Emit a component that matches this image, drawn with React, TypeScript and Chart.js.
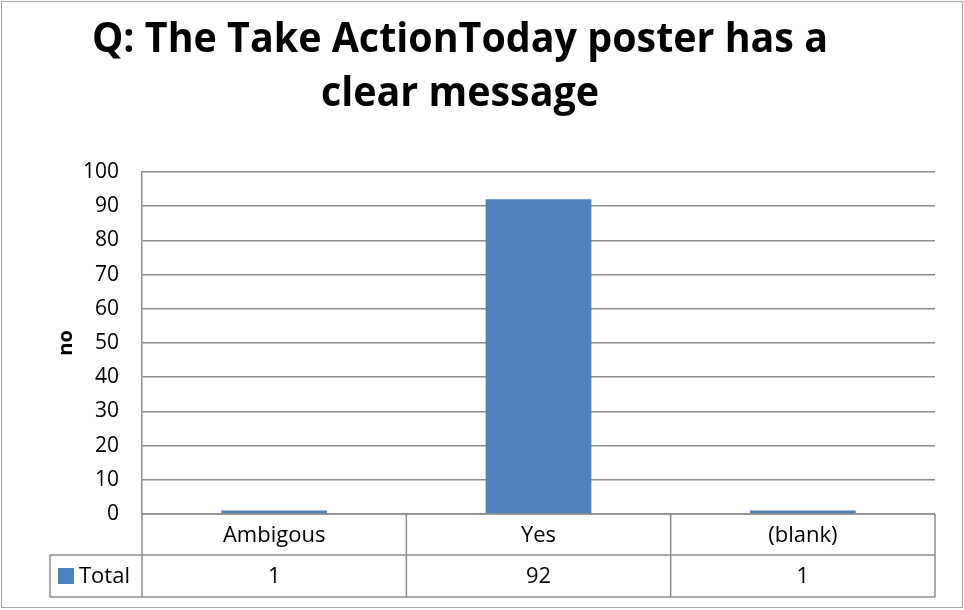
import React, { useEffect, useRef } from "react";
import { Chart, registerables } from "chart.js";

Chart.register(...registerables);

const titleLines = ["Q: The Take ActionToday poster has a", "clear message"];
const categories = ["Ambigous", "Yes", "(blank)"];
const totals = [1, 92, 1];
const seriesName = "Total";
const yAxisTitle = "no";
const yMin = 0;
const yMax = 100;
const yStep = 10;

const BAR = "#4F81BD";
const LINE = "#8C8C8C";
const FONT = "'Open Sans', 'Liberation Sans', sans-serif";

const tablePlugin = {
  id: "excelTable",
  beforeDraw(chart: any) {
    const { ctx, width, height } = chart;
    ctx.save();
    ctx.fillStyle = "#ffffff";
    ctx.fillRect(0, 0, width, height);
    ctx.restore();
  },
  afterDraw(chart: any) {
    const { ctx, chartArea } = chart;
    const xs = chart.scales.x;
    const n = categories.length;
    const left = chartArea.left;
    const right = chartArea.right;
    const bottom = chartArea.bottom;
    const cw = (right - left) / n;
    const row1Bottom = bottom + 41;
    const row2Bottom = row1Bottom + 42;
    const labelColLeft = 50;

    ctx.save();
    // outer border
    ctx.strokeStyle = "#A6A6A6";
    ctx.lineWidth = 1;
    ctx.strokeRect(1.5, 1.5, 961, 606);

    // title
    ctx.fillStyle = "#000";
    ctx.font = `bold 41px ${FONT}`;
    ctx.textAlign = "center";
    ctx.textBaseline = "alphabetic";
    const w1 = ctx.measureText(titleLines[0]).width;
    const sx = 736 / w1;
    const baselines = [52, 106];
    titleLines.forEach((t, i) => {
      ctx.save();
      ctx.translate(460, baselines[i]);
      ctx.scale(sx, 1);
      ctx.fillText(t, 0, 0);
      ctx.restore();
    });

    // y axis title
    ctx.save();
    ctx.font = `bold 20px ${FONT}`;
    ctx.translate(72, (chartArea.top + chartArea.bottom) / 2);
    ctx.rotate(-Math.PI / 2);
    ctx.textAlign = "center";
    ctx.textBaseline = "alphabetic";
    ctx.fillText(yAxisTitle, 0, 0);
    ctx.restore();

    // table lines
    ctx.strokeStyle = LINE;
    ctx.lineWidth = 1.5;
    ctx.beginPath();
    ctx.moveTo(left, bottom);
    ctx.lineTo(right, bottom);
    ctx.moveTo(labelColLeft, row1Bottom);
    ctx.lineTo(right, row1Bottom);
    ctx.moveTo(labelColLeft, row2Bottom);
    ctx.lineTo(right, row2Bottom);
    for (let i = 0; i <= n; i++) {
      const x = left + i * cw;
      ctx.moveTo(x, bottom);
      ctx.lineTo(x, row2Bottom);
    }
    ctx.moveTo(labelColLeft, row1Bottom);
    ctx.lineTo(labelColLeft, row2Bottom);
    ctx.stroke();

    // texts
    ctx.fillStyle = "#000";
    ctx.font = `22px ${FONT}`;
    ctx.textAlign = "center";
    ctx.textBaseline = "middle";
    categories.forEach((c, i) => {
      const x = xs.getPixelForValue(i);
      ctx.fillText(c, x, (bottom + row1Bottom) / 2 + 1);
      ctx.fillText(String(totals[i]), x, (row1Bottom + row2Bottom) / 2 + 1);
    });
    const r2mid = (row1Bottom + row2Bottom) / 2;
    ctx.fillStyle = BAR;
    ctx.fillRect(58, r2mid - 8, 16, 16);
    ctx.fillStyle = "#000";
    ctx.textAlign = "left";
    ctx.fillText(seriesName, 79, r2mid + 1);
    ctx.restore();
  },
};

export default function App() {
  const ref = useRef<HTMLCanvasElement | null>(null);
  useEffect(() => {
    document.body.style.margin = "0";
    const canvas = ref.current!;
    const chart = new Chart(canvas, {
      type: "bar",
      data: {
        labels: categories,
        datasets: [
          {
            label: seriesName,
            data: totals,
            backgroundColor: BAR,
            borderWidth: 0,
            categoryPercentage: 1,
            barPercentage: 0.4,
          },
        ],
      },
      options: {
        responsive: false,
        animation: false,
        layout: { padding: { left: 0, right: 29, top: 172, bottom: 96 } },
        plugins: {
          legend: { display: false },
          title: { display: false },
          tooltip: { enabled: false },
        },
        scales: {
          x: { display: false, grid: { display: false } },
          y: {
            min: yMin,
            max: yMax,
            ticks: {
              stepSize: yStep,
              color: "#000",
              padding: 23,
              font: { family: FONT, size: 21 },
            },
            grid: { color: LINE, lineWidth: 1.5, drawTicks: false },
            border: { color: LINE, width: 1.5 },
            afterFit: (scale: any) => {
              scale.width = 142;
            },
          },
        },
      },
      plugins: [tablePlugin],
    });
    return () => chart.destroy();
  }, []);
  return (
    <div style={{ position: "absolute", left: 0, top: 0, width: 964, height: 610 }}>
      <canvas ref={ref} width={964} height={610} style={{ width: 964, height: 610, display: "block" }} />
    </div>
  );
}
